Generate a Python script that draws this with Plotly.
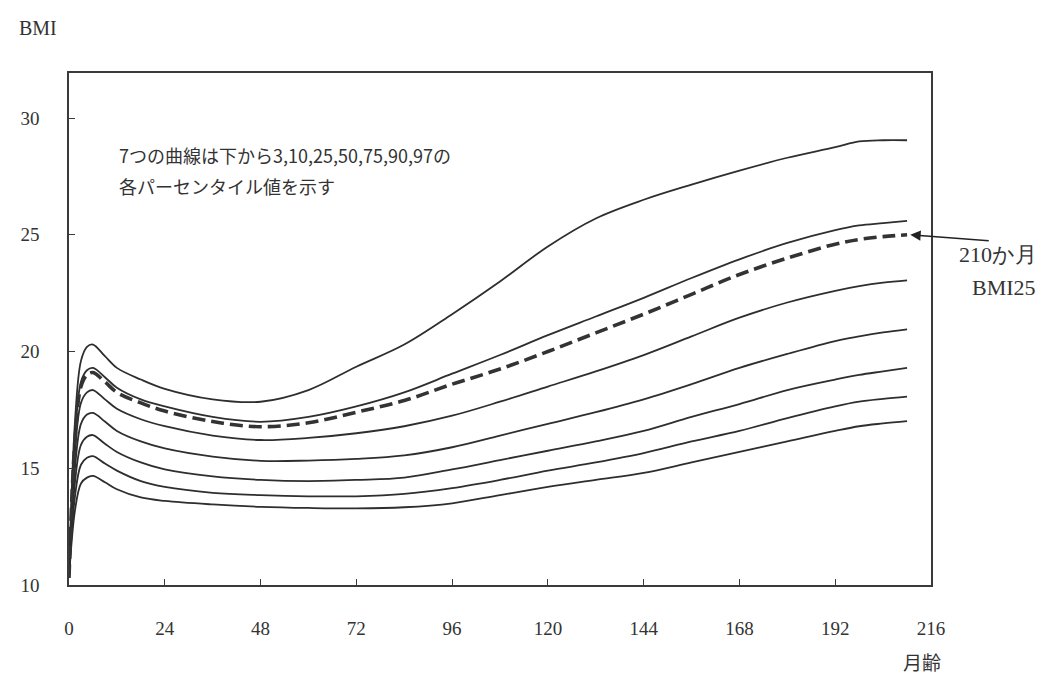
import plotly.graph_objects as go

months = [0, 1.5, 3, 4.5, 6, 9, 12, 18, 24, 36, 48, 60, 72, 84, 96, 108, 120,
          132, 144, 156, 168, 180, 192, 198, 204, 210]

p97 = [10.3, 17.0, 19.6, 20.2, 20.3, 19.8, 19.3, 18.8, 18.4, 17.95, 17.85, 18.35, 19.35,
       20.3, 21.6, 23.0, 24.5, 25.7, 26.5, 27.15, 27.75, 28.3, 28.75, 29.0, 29.05, 29.05]
p90 = [10.3, 16.3, 18.7, 19.2, 19.3, 18.9, 18.45, 17.95, 17.65, 17.2, 16.99, 17.2, 17.65,
       18.25, 19.05, 19.85, 20.7, 21.5, 22.3, 23.15, 23.95, 24.65, 25.2, 25.4, 25.5, 25.6]
p75 = [10.3, 15.7, 17.8, 18.25, 18.35, 17.95, 17.55, 17.1, 16.8, 16.4, 16.21, 16.3, 16.5,
       16.8, 17.25, 17.85, 18.5, 19.15, 19.85, 20.65, 21.45, 22.1, 22.6, 22.8, 22.95, 23.05]
p50 = [10.3, 15.0, 16.9, 17.3, 17.37, 17.0, 16.6, 16.15, 15.85, 15.5, 15.32, 15.33, 15.4,
       15.55, 15.9, 16.4, 16.9, 17.4, 17.95, 18.6, 19.3, 19.9, 20.45, 20.65, 20.82, 20.95]
p25 = [10.3, 14.4, 16.0, 16.35, 16.42, 16.05, 15.7, 15.25, 14.95, 14.65, 14.5, 14.45, 14.5,
       14.6, 14.95, 15.35, 15.75, 16.15, 16.6, 17.2, 17.75, 18.35, 18.8, 19.0, 19.15, 19.3]
p10 = [10.3, 13.8, 15.15, 15.45, 15.52, 15.2, 14.9, 14.45, 14.2, 13.95, 13.85, 13.8, 13.8,
       13.9, 14.15, 14.5, 14.9, 15.25, 15.65, 16.15, 16.6, 17.15, 17.65, 17.85, 17.97, 18.07]
p3 = [10.3, 13.2, 14.35, 14.6, 14.67, 14.4, 14.1, 13.75, 13.6, 13.45, 13.35, 13.3, 13.28,
      13.33, 13.5, 13.85, 14.2, 14.5, 14.8, 15.25, 15.7, 16.15, 16.6, 16.8, 16.92, 17.02]
# example child (dashed)
child = [10.3, 16.2, 18.5, 19.0, 19.1, 18.7, 18.25, 17.8, 17.45, 17.0, 16.78, 16.95, 17.4,
         17.9, 18.6, 19.25, 20.0, 20.8, 21.6, 22.45, 23.3, 24.0, 24.6, 24.8, 24.92, 25.0]

percentile_curves = [p3, p10, p25, p50, p75, p90, p97]
x_ticks = [0, 24, 48, 72, 96, 120, 144, 168, 192, 216]
y_ticks = [10, 15, 20, 25, 30]

LINE = "#2e2e2e"
SERIF = "Liberation Serif, Times New Roman, serif"
CJK = "Noto Sans CJK JP, Noto Sans, sans-serif"

fig = go.Figure()
for ys in percentile_curves:
    fig.add_trace(go.Scatter(x=months, y=ys, mode="lines",
                             line=dict(color=LINE, width=1.8, shape="spline", smoothing=1.0),
                             hoverinfo="skip", showlegend=False))
fig.add_trace(go.Scatter(x=months, y=child, mode="lines",
                         line=dict(color="#333333", width=3.6, dash="13px,6px",
                                   shape="spline", smoothing=1.0),
                         hoverinfo="skip", showlegend=False))

axis_common = dict(showline=True, linecolor="#3a3a3a", linewidth=1.6, mirror=True,
                   ticks="inside", ticklen=6, tickcolor="#3a3a3a", tickwidth=1.2,
                   showgrid=False, zeroline=False,
                   tickfont=dict(family=SERIF, size=19, color="#333"))

fig.update_xaxes(range=[0, 216], tickvals=x_ticks, ticklabelstandoff=25, **axis_common)
fig.update_yaxes(range=[10, 31.93], tickvals=y_ticks, ticklabelstandoff=24, **axis_common)

fig.update_layout(
    width=1053, height=677,
    margin=dict(l=69, r=122, t=73, b=92),
    paper_bgcolor="white", plot_bgcolor="white",
    showlegend=False,
    annotations=[
        dict(text="BMI", xref="paper", yref="paper", x=-0.036, y=1.088,
             xanchor="center", yanchor="middle", showarrow=False,
             font=dict(family=SERIF, size=20, color="#333")),
        dict(text="月齢", xref="paper", yref="paper", x=0.9896, y=-0.150,
             xanchor="center", yanchor="middle", showarrow=False,
             font=dict(family=CJK, size=19, color="#333")),
        dict(text="7つの曲線は下から3,10,25,50,75,90,97の",
             xref="paper", yref="paper", x=0.056, y=0.840, xanchor="left", yanchor="middle",
             align="left", showarrow=False,
             font=dict(family=CJK, size=18, color="#333")),
        dict(text="各パーセンタイル値を示す",
             xref="paper", yref="paper", x=0.056, y=0.779, xanchor="left", yanchor="middle",
             align="left", showarrow=False,
             font=dict(family=CJK, size=18, color="#333")),
        dict(text="", x=210.8, y=25.0, xref="x", yref="y", showarrow=True,
             ax=80, ay=6, axref="pixel", ayref="pixel",
             arrowhead=2, arrowsize=1.3, arrowwidth=1.6, arrowcolor="#222"),
        dict(text="210か月", xref="paper", yref="paper", x=1.078, y=0.645,
             xanchor="center", yanchor="middle", showarrow=False,
             font=dict(family=SERIF, size=22, color="#333")),
        dict(text="BMI25", xref="paper", yref="paper", x=1.085, y=0.582,
             xanchor="center", yanchor="middle", showarrow=False,
             font=dict(family=SERIF, size=22, color="#333")),
    ],
)

fig.write_html("out.html", config={"displayModeBar": False},
               post_script="document.body.style.margin='0';")
